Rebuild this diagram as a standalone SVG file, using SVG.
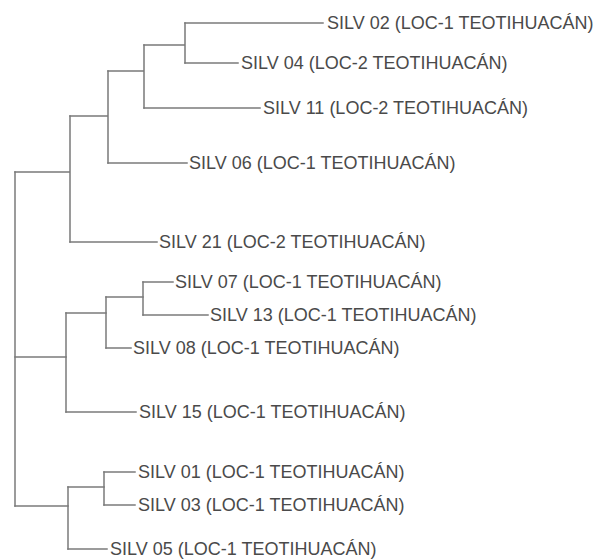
<svg xmlns="http://www.w3.org/2000/svg" width="605" height="559" viewBox="0 0 605 559">
<style>
.e{fill:none;stroke:#7a7a7a;stroke-width:1.5;stroke-linecap:square}
.t{font-family:"Liberation Sans",Arial,sans-serif;font-size:18px;fill:#4a4a4a}
</style>
<rect width="605" height="559" fill="#ffffff"/>
<g id="connectors">
<path class="e" d="M15 172V506"/>
<path class="e" d="M15 172H70V242M70 116V242"/>
<path class="e" d="M70 116H108V163M108 71V163"/>
<path class="e" d="M108 71H144V108M144 45V108"/>
<path class="e" d="M144 45H185V63M185 23V63"/>
<path class="e" d="M185 23H323"/>
<path class="e" d="M185 63H238"/>
<path class="e" d="M144 108H260"/>
<path class="e" d="M108 163H187"/>
<path class="e" d="M70 242H157"/>
<path class="e" d="M15 357H66"/>
<path class="e" d="M66 313V412"/>
<path class="e" d="M66 313H106"/>
<path class="e" d="M106 297V348"/>
<path class="e" d="M106 297H143"/>
<path class="e" d="M143 282V315"/>
<path class="e" d="M143 282H173"/>
<path class="e" d="M143 315H208"/>
<path class="e" d="M106 348H131"/>
<path class="e" d="M66 412H136"/>
<path class="e" d="M15 506H68"/>
<path class="e" d="M68 487V549"/>
<path class="e" d="M68 487H104"/>
<path class="e" d="M104 472V505"/>
<path class="e" d="M104 472H135"/>
<path class="e" d="M104 505H135"/>
<path class="e" d="M68 549H107"/>
</g>
<g id="silv02"><text class="t" x="327" y="29">SILV 02 (LOC-1 TEOTIHUACÁN)</text></g>
<g id="silv04"><text class="t" x="241" y="69">SILV 04 (LOC-2 TEOTIHUACÁN)</text></g>
<g id="silv11"><text class="t" x="263" y="114">SILV 11 (LOC-2 TEOTIHUACÁN)</text></g>
<g id="silv06"><text class="t" x="189" y="169">SILV 06 (LOC-1 TEOTIHUACÁN)</text></g>
<g id="silv21"><text class="t" x="159" y="248">SILV 21 (LOC-2 TEOTIHUACÁN)</text></g>
<g id="silv07"><text class="t" x="175" y="288">SILV 07 (LOC-1 TEOTIHUACÁN)</text></g>
<g id="silv13"><text class="t" x="210" y="321">SILV 13 (LOC-1 TEOTIHUACÁN)</text></g>
<g id="silv08"><text class="t" x="133" y="354">SILV 08 (LOC-1 TEOTIHUACÁN)</text></g>
<g id="silv15"><text class="t" x="139" y="418">SILV 15 (LOC-1 TEOTIHUACÁN)</text></g>
<g id="silv01"><text class="t" x="138" y="478">SILV 01 (LOC-1 TEOTIHUACÁN)</text></g>
<g id="silv03"><text class="t" x="138" y="511">SILV 03 (LOC-1 TEOTIHUACÁN)</text></g>
<g id="silv05"><text class="t" x="110" y="555">SILV 05 (LOC-1 TEOTIHUACÁN)</text></g>
</svg>
